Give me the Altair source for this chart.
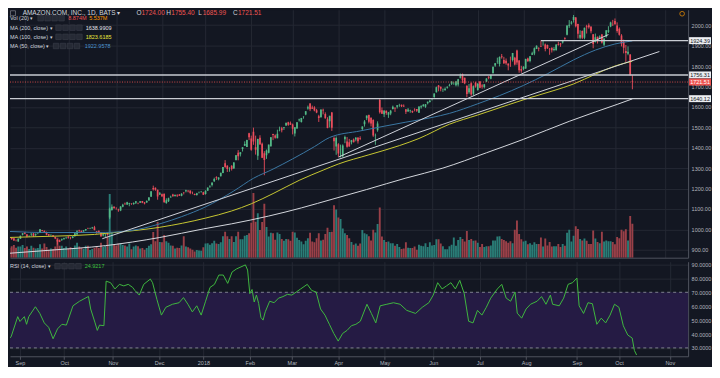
import altair as alt
import pandas as pd

# ---------------- data (trading-day index 0 = 2017-08-22) ----------------
month_idx = [8, 28, 50, 71, 91, 112, 131, 152, 173, 195, 216, 237, 260, 279, 302]
month_lbl = ["Sep", "Oct", "Nov", "Dec", "2018", "Feb", "Mar", "Apr", "May",
             "Jun", "Jul", "Aug", "Sep", "Oct", "Nov"]

opens = [
    958, 960, 958, 956, 947, 940, 954, 974,
    984, 975, 967, 975, 980, 973, 983, 983, 996, 993, 985, 976, 972, 971, 963, 949, 946, 948, 951, 960,
    964, 958, 957, 968, 975, 994, 993, 989, 995, 1004, 1005, 1005, 1010, 990, 993, 986, 970, 972, 981, 1058, 1095, 1110,
    1105, 1097, 1092, 1110, 1125, 1122, 1125, 1126, 1124, 1130, 1128, 1130, 1139, 1132, 1131, 1141, 1160, 1202, 1204, 1194, 1171,
    1172, 1174, 1129, 1138, 1156, 1171, 1163, 1167, 1171, 1164, 1180, 1187, 1189, 1190, 1176, 1173, 1168, 1180, 1185, 1182,
    1173, 1189, 1206, 1217, 1236, 1256, 1245, 1260, 1276, 1324, 1312, 1293, 1312, 1298, 1339, 1375, 1368, 1393, 1409, 1403, 1471,
    1445, 1478, 1402, 1361, 1449, 1419, 1373, 1363, 1375, 1407, 1467, 1460, 1446, 1482, 1495, 1496, 1509, 1524, 1520,
    1513, 1469, 1494, 1534, 1526, 1550, 1563, 1592, 1616, 1597, 1597, 1583, 1554, 1550, 1586, 1565, 1539, 1530, 1572, 1447, 1406,
    1417, 1391, 1358, 1441, 1430, 1426, 1427, 1440, 1440, 1449, 1446, 1491, 1515, 1544, 1560, 1547, 1535, 1458, 1485, 1634, 1583,
    1564, 1581, 1561, 1567, 1589, 1595, 1600, 1608, 1610, 1605, 1588, 1577, 1580, 1580, 1586, 1589, 1571, 1598, 1603, 1600, 1618, 1624,
    1638, 1648, 1672, 1705, 1699, 1682, 1681, 1694, 1702, 1713, 1715, 1706, 1709, 1743, 1761, 1743, 1703, 1672, 1716, 1664, 1718,
    1683, 1724, 1705, 1697, 1724, 1747, 1738, 1765, 1803, 1821, 1810, 1848, 1829, 1826, 1812, 1830, 1829, 1840, 1876, 1827, 1786,
    1785, 1788, 1837, 1825, 1855, 1861, 1883, 1888, 1898, 1919, 1905, 1903, 1885, 1890, 1878, 1877, 1907, 1910, 1915, 1937, 1953, 1997, 2008,
    2026, 2038, 2006, 1939, 1972, 1939, 1995, 2000, 1993, 1956, 1918, 1943, 1939, 1954, 1904, 1943, 1968, 1993, 2004,
    2021, 1999, 1982, 1949, 1918, 1874, 1860, 1857, 1724,
]
highs = [
    968, 961, 962, 957, 950, 956, 969, 981,
    985, 977, 969, 980, 982, 979, 985, 1001, 997, 994, 989, 977, 974, 972, 964, 952, 950, 955, 959, 964,
    967, 963, 967, 982, 996, 998, 994, 996, 1002, 1008, 1008, 1012, 1017, 991, 994, 987, 978, 978, 985, 1106, 1122, 1113,
    1108, 1101, 1113, 1125, 1131, 1135, 1130, 1128, 1132, 1138, 1131, 1138, 1139, 1134, 1142, 1158, 1186, 1214, 1205, 1194, 1183,
    1175, 1175, 1152, 1155, 1165, 1174, 1169, 1172, 1173, 1177, 1183, 1194, 1192, 1190, 1185, 1175, 1179, 1185, 1188, 1184,
    1191, 1206, 1216, 1229, 1253, 1260, 1255, 1277, 1305, 1339, 1314, 1304, 1314, 1329, 1364, 1388, 1378, 1402, 1431, 1439, 1473,
    1459, 1498, 1459, 1444, 1461, 1425, 1383, 1391, 1414, 1452, 1468, 1465, 1488, 1503, 1502, 1500, 1522, 1527, 1528,
    1518, 1501, 1525, 1542, 1546, 1554, 1579, 1606, 1618, 1606, 1603, 1590, 1561, 1587, 1591, 1573, 1549, 1556, 1575, 1455, 1455,
    1422, 1415, 1416, 1459, 1452, 1443, 1438, 1445, 1452, 1452, 1456, 1504, 1535, 1557, 1562, 1548, 1539, 1469, 1529, 1639, 1597,
    1582, 1582, 1575, 1585, 1606, 1597, 1608, 1615, 1611, 1612, 1588, 1594, 1586, 1582, 1593, 1589, 1602, 1608, 1614, 1614, 1626, 1635,
    1642, 1666, 1699, 1707, 1699, 1690, 1695, 1700, 1713, 1725, 1721, 1727, 1737, 1763, 1763, 1743, 1705, 1712, 1720, 1705, 1723,
    1714, 1726, 1711, 1711, 1740, 1750, 1757, 1797, 1815, 1841, 1847, 1859, 1845, 1837, 1812, 1846, 1864, 1845, 1880, 1829, 1801,
    1799, 1836, 1841, 1848, 1870, 1891, 1901, 1892, 1925, 1921, 1910, 1905, 1888, 1891, 1893, 1906, 1919, 1913, 1928, 1941, 1999, 2025, 2021,
    2050, 2040, 2007, 1975, 1974, 1988, 2002, 2009, 1993, 1956, 1959, 1944, 1950, 1957, 1938, 1975, 1995, 2017, 2026,
    2033, 2014, 1989, 1956, 1929, 1903, 1896, 1858, 1755,
]
lows = [
    955, 953, 948, 944, 941, 939, 953, 970,
    976, 960, 962, 967, 964, 966, 976, 983, 990, 982, 971, 967, 966, 962, 952, 925, 937, 943, 950, 953,
    954, 951, 956, 963, 973, 988, 983, 988, 992, 1001, 1001, 1003, 995, 979, 981, 963, 965, 962, 969, 1050, 1091, 1100,
    1096, 1086, 1089, 1108, 1121, 1119, 1113, 1120, 1120, 1124, 1123, 1130, 1128, 1122, 1130, 1141, 1160, 1190, 1189, 1145, 1168,
    1158, 1129, 1125, 1134, 1156, 1160, 1160, 1158, 1164, 1162, 1171, 1181, 1181, 1172, 1172, 1167, 1165, 1176, 1180, 1168,
    1170, 1189, 1205, 1210, 1232, 1242, 1240, 1259, 1275, 1301, 1281, 1282, 1288, 1297, 1337, 1338, 1357, 1381, 1408, 1403, 1437,
    1385, 1414, 1366, 1340, 1413, 1349, 1265, 1345, 1372, 1405, 1437, 1444, 1446, 1480, 1475, 1487, 1507, 1507, 1512,
    1465, 1455, 1493, 1528, 1523, 1542, 1559, 1586, 1579, 1590, 1578, 1569, 1526, 1546, 1563, 1542, 1495, 1499, 1482, 1386, 1365,
    1355, 1352, 1353, 1422, 1400, 1405, 1416, 1426, 1431, 1420, 1437, 1483, 1503, 1535, 1519, 1504, 1453, 1414, 1478, 1567, 1566,
    1550, 1561, 1546, 1559, 1587, 1575, 1592, 1600, 1599, 1600, 1565, 1576, 1571, 1570, 1578, 1575, 1570, 1591, 1601, 1595, 1612, 1621,
    1631, 1644, 1670, 1676, 1676, 1673, 1680, 1689, 1700, 1707, 1708, 1700, 1700, 1739, 1717, 1711, 1647, 1664, 1654, 1656, 1694,
    1679, 1691, 1689, 1690, 1722, 1735, 1735, 1764, 1796, 1811, 1798, 1836, 1810, 1806, 1779, 1796, 1822, 1803, 1806, 1767, 1767,
    1779, 1786, 1821, 1818, 1854, 1853, 1883, 1872, 1893, 1900, 1872, 1884, 1855, 1866, 1872, 1876, 1900, 1894, 1910, 1928, 1950, 1987, 2003,
    2013, 1989, 1935, 1931, 1932, 1931, 1959, 1983, 1960, 1887, 1915, 1910, 1932, 1910, 1898, 1939, 1962, 1990, 1996,
    2003, 1963, 1949, 1896, 1862, 1820, 1853, 1754, 1686,
]
closes = [
    967, 958, 952, 945, 946, 954, 968, 981,
    978, 965, 968, 980, 966, 978, 983, 1000, 992, 987, 974, 970, 973, 965, 955, 940, 939, 951, 956, 961,
    959, 957, 965, 981, 990, 991, 987, 995, 1001, 1003, 1006, 1009, 997, 987, 983, 966, 976, 973, 972, 1101, 1111, 1105,
    1104, 1094, 1112, 1121, 1123, 1133, 1129, 1125, 1129, 1137, 1127, 1137, 1130, 1126, 1139, 1156, 1186, 1196, 1194, 1161, 1177,
    1162, 1134, 1142, 1152, 1160, 1162, 1169, 1165, 1164, 1174, 1179, 1191, 1187, 1178, 1175, 1168, 1177, 1182, 1186, 1169,
    1189, 1204, 1210, 1229, 1247, 1253, 1254, 1277, 1305, 1305, 1295, 1293, 1295, 1327, 1363, 1358, 1378, 1402, 1418, 1438, 1451,
    1390, 1430, 1390, 1443, 1417, 1351, 1340, 1386, 1415, 1451, 1462, 1449, 1468, 1483, 1485, 1500, 1522, 1512, 1512,
    1493, 1500, 1524, 1538, 1545, 1552, 1579, 1598, 1588, 1591, 1582, 1572, 1545, 1587, 1582, 1544, 1496, 1556, 1497, 1431, 1447,
    1372, 1392, 1411, 1452, 1405, 1406, 1436, 1427, 1449, 1431, 1442, 1504, 1528, 1557, 1527, 1518, 1460, 1460, 1518, 1573, 1566,
    1582, 1570, 1572, 1581, 1600, 1592, 1608, 1609, 1603, 1602, 1576, 1587, 1582, 1574, 1585, 1581, 1602, 1603, 1610, 1613, 1625, 1630,
    1642, 1665, 1696, 1696, 1689, 1684, 1689, 1699, 1705, 1724, 1716, 1724, 1735, 1750, 1730, 1716, 1663, 1691, 1661, 1701, 1700,
    1714, 1694, 1700, 1711, 1739, 1743, 1755, 1797, 1813, 1822, 1844, 1843, 1813, 1814, 1802, 1829, 1864, 1808, 1817, 1779, 1777,
    1797, 1834, 1823, 1848, 1862, 1887, 1899, 1886, 1896, 1920, 1883, 1887, 1882, 1877, 1883, 1905, 1903, 1905, 1928, 1933, 1998, 2002, 2013,
    2040, 1995, 1958, 1952, 1939, 1987, 1990, 1990, 1970, 1908, 1941, 1926, 1944, 1915, 1934, 1975, 1975, 2013, 2003,
    2004, 1971, 1953, 1909, 1890, 1864, 1870, 1755, 1721.51,
]
volumes = [  # millions of shares
    2.7, 2.6, 3.0, 3.3, 2.6, 2.9, 2.9, 3.3,
    2.5, 2.9, 2.3, 3.1, 2.6, 2.4, 2.5, 3.5, 2.4, 3.7, 2.8, 2.1, 2.4, 2.3, 2.9, 5.2, 3.1, 3.1, 2.5, 2.9,
    2.4, 2.7, 2.5, 3.2, 3.9, 2.9, 2.5, 2.3, 3.1, 3.1, 2.0, 2.3, 2.5, 3.0, 2.5, 3.9, 2.8, 3.1, 5.6, 16.6, 6.6, 3.5,
    3.2, 3.7, 3.8, 3.3, 3.2, 2.9, 3.7, 2.2, 2.9, 3.2, 3.0, 2.4, 2.5, 2.1, 2.5, 3.1, 3.5, 6.7, 4.3, 9.3, 4.1,
    4.0, 5.9, 4.3, 3.9, 3.2, 3.1, 2.4, 2.6, 2.5, 3.2, 5.6, 2.9, 2.7, 2.4, 2.1, 1.6, 2.0, 1.9, 1.8, 2.7,
    3.7, 3.8, 3.4, 3.8, 4.4, 3.7, 3.6, 4.0, 5.6, 6.8, 5.6, 4.9, 5.6, 4.1, 5.6, 6.8, 4.8, 4.8, 5.7, 5.9, 6.4,
    9.1, 16.9, 9.4, 11.6, 7.2, 9.3, 14.1, 8.0, 5.5, 6.5, 6.4, 4.7, 6.6, 6.2, 4.9, 4.4, 4.9, 4.8, 4.4,
    6.8, 6.6, 5.2, 4.6, 4.2, 3.5, 4.4, 5.1, 6.5, 4.2, 4.0, 5.1, 6.4, 4.5, 4.7, 6.2, 7.8, 6.7, 6.8, 13.7, 12.6,
    10.5, 10.1, 7.6, 6.4, 5.9, 5.1, 4.1, 3.4, 3.7, 3.1, 3.7, 7.2, 6.4, 6.1, 5.6, 4.5, 7.3, 6.6, 8.8, 13.1, 5.5,
    4.6, 4.1, 4.2, 3.8, 3.8, 3.1, 3.6, 2.8, 2.3, 2.4, 4.0, 2.6, 2.5, 2.5, 2.9, 2.1, 3.4, 3.1, 3.0, 3.8, 2.8, 4.0,
    3.2, 3.3, 4.8, 4.8, 3.7, 3.0, 2.2, 2.2, 3.0, 3.4, 5.3, 3.1, 4.6, 5.4, 4.9, 4.2, 7.0, 4.6, 4.9, 4.4, 4.5,
    3.9, 2.8, 3.6, 2.8, 3.0, 3.0, 3.2, 4.5, 4.5, 5.5, 5.6, 4.9, 4.6, 4.3, 3.9, 4.3, 3.8, 7.3, 9.7, 6.2, 4.8,
    4.2, 4.4, 3.5, 3.8, 3.4, 4.0, 3.6, 3.6, 5.3, 2.9, 5.0, 3.2, 4.1, 2.9, 3.0, 3.0, 3.6, 2.8, 3.6, 3.1, 6.5, 7.3, 4.2,
    5.7, 8.2, 7.5, 4.9, 4.5, 5.0, 4.4, 3.6, 3.6, 7.1, 5.0, 4.1, 3.8, 6.8, 4.2, 4.5, 4.3, 4.3, 4.1,
    3.5, 5.4, 5.1, 7.3, 6.9, 7.4, 4.5, 10.9, 8.874,
]

ma50_idx = [0, 20, 45, 60, 71, 80, 91, 104, 113, 122, 131, 141, 148, 162, 173, 183, 195, 203, 216, 226, 237, 248, 260, 270, 279, 287]
ma50_val = [990, 984, 985, 1000, 1030, 1062, 1110, 1188, 1250, 1295, 1345, 1405, 1450, 1482, 1505, 1525, 1548, 1568, 1615, 1655, 1705, 1762, 1830, 1878, 1908, 1922.96]
ma100_idx = [0, 20, 40, 50, 70, 91, 103, 112, 122, 134, 145, 152, 166, 180, 189, 203, 216, 230, 240, 251, 260, 270, 279, 287]
ma100_val = [960, 966, 975, 985, 1010, 1055, 1090, 1125, 1175, 1240, 1290, 1320, 1365, 1410, 1445, 1515, 1560, 1610, 1645, 1680, 1712, 1760, 1800, 1823.62]
ma200_idx = [0, 20, 45, 70, 90, 103, 120, 135, 150, 165, 183, 200, 220, 237, 258, 270, 280, 287]
ma200_val = [882, 898, 920, 960, 1002, 1027, 1065, 1105, 1150, 1195, 1251, 1300, 1375, 1441, 1529, 1575, 1612, 1638.99]

trend_a_idx = [43.6, 299.4]
trend_a_val = [954, 1871]
trend_b_idx = [152.1, 276.0]
trend_b_val = [1354, 1954]

level_prices = [1756.31, 1640.12]
resist_price = 1924.39
resist_start = 245
last_price = 1721.51

rsi_idx = [0, 3, 4, 7, 8, 10, 11, 12, 15, 17, 19, 21, 23, 25, 27, 29, 32, 35, 39, 40, 42, 43, 44, 46, 47,
           49, 51, 53, 55, 57, 59, 60, 62, 64, 67, 68, 70, 72, 74, 77, 80, 82, 84, 86, 88, 90, 92, 94, 96,
           98, 100, 102, 104, 106, 110, 111, 112, 113, 114, 115, 116, 117, 118, 119, 121, 123, 125, 127, 129,
           131, 133, 135, 138, 140, 142, 144, 146, 148, 150, 152, 154, 156, 158, 160, 162, 165, 167, 169,
           171, 174, 177, 180, 183, 185, 187, 190, 193, 195, 197, 199, 201, 203, 205, 207, 209, 211, 213,
           215, 217, 219, 221, 224, 226, 228, 230, 232, 233, 235, 237, 239, 242, 244, 246, 248, 249, 252,
           254, 256, 258, 260, 261, 263, 265, 267, 269, 271, 273, 275, 277, 279, 281, 283, 285, 286, 287]
rsi_val = [42, 36.6, 38, 52.5, 49, 52.5, 47, 52.5, 59.6, 54.8, 48, 44.8, 36.6, 43.7, 47, 46.4, 60.3, 63.6, 67, 58, 48, 42.6, 46.4, 46, 78,
           76.9, 72.4, 75.7, 74.6, 75.7, 73.5, 71.3, 68, 75.7, 79.5, 76.9, 64.7, 53.6, 59.2, 61.4, 62.5, 66.2, 61.4, 55.9, 60.3, 53.6, 63.6, 73.5, 75.7,
           82.4, 82.4, 76.4, 84.6, 86.8, 89.7, 86, 69, 72, 63, 68, 62, 52, 50, 56, 63.6, 62.5, 65.8, 66.9, 68.5,
           68, 70.2, 72.4, 75.7, 71.3, 70.2, 58, 53.6, 47, 40.4, 34.9, 40.4, 42.6, 46, 47, 49.2, 61.4, 54.8, 48,
           60.3, 61.4, 62.5, 61.4, 57, 55.9, 54.8, 59.2, 62.5, 68, 76.9, 72.4, 74.6, 76.9, 72.4, 78.6, 69.1, 49.2, 48,
           57, 53.6, 59.2, 65.8, 72.4, 75.7, 65.8, 63.6, 70.2, 55, 51.4, 58, 61.4, 63.6, 66.9, 61.4, 68, 61.4, 60.3,
           65.8, 75.7, 76.9, 80.2, 60.3, 54.8, 62.5, 61.8, 47, 51.4, 48, 53.6, 61.4, 59.2, 45.9, 39.3, 37.1, 28.2, 24.92]

# ---------------- layout / style ----------------
W, H_MAIN, H_RSI = 681, 249, 95
X_DOM = [3.5, 310.3]
P_DOM = [861, 2075.6]
V_DOM = [0, 64.7]
R_DOM = [24, 92]
FONT = "Liberation Sans"
BG = "#131722"
GRID = "#242833"
AXLINE = "#50535e"
TXT = "#b2b5be"
HDR = "#d1d4dc"
UP, DOWN = "#53b987", "#eb4d5c"
VUP, VDOWN = "#2a7d77", "#9a4048"
RED = "#ef5350"

bars = pd.DataFrame({"i": list(range(len(closes))), "o": opens, "h": highs,
                     "l": lows, "c": closes, "v": volumes})

xs = alt.Scale(domain=X_DOM, nice=False, zero=False)
ps = alt.Scale(domain=P_DOM, nice=False, zero=False)
rs = alt.Scale(domain=R_DOM, nice=False, zero=False)

main_x_axis = alt.Axis(values=month_idx, labels=False, ticks=False, grid=True,
                       gridColor=GRID, domainColor=AXLINE, title=None)
lbl_expr = ("[" + ",".join("'%s'" % s for s in month_lbl) + "][indexof(["
            + ",".join(str(v) for v in month_idx) + "], datum.value)]")
rsi_x_axis = alt.Axis(values=month_idx, labelExpr=lbl_expr, labelFontSize=5.5,
                      labelColor=TXT, labelFont=FONT, tickSize=3, tickColor=AXLINE,
                      labelPadding=1, grid=True, gridColor=GRID, domainColor=AXLINE,
                      title=None, labelFlush=False)
price_axis = alt.Axis(orient="right", values=list(range(900, 2100, 100)), format=".2f",
                      labelFontSize=5.5, labelColor=TXT, labelFont=FONT, ticks=False,
                      labelPadding=3, grid=True, gridColor=GRID, domainColor=AXLINE,
                      title=None)
rsi_axis = alt.Axis(orient="right", values=[30, 40, 50, 60, 70, 80, 90], format=".4f",
                    labelFontSize=5.5, labelColor=TXT, labelFont=FONT, ticks=False,
                    labelPadding=3, grid=True, gridColor=GRID, domainColor=AXLINE,
                    title=None)


def XM(f="i"):
    return alt.X(f + ":Q", scale=xs, axis=main_x_axis)


def YP(f):
    return alt.Y(f + ":Q", scale=ps, axis=price_axis)


def XR(f="i"):
    return alt.X(f + ":Q", scale=xs, axis=rsi_x_axis)


def YR(f):
    return alt.Y(f + ":Q", scale=rs, axis=rsi_axis)


def txt(s, x, y, color=HDR, size=5.5, align="left"):
    return alt.Chart(pd.DataFrame({"t": [s]})).mark_text(
        align=align, baseline="middle", font=FONT, fontSize=size, color=color
    ).encode(x=alt.value(x), y=alt.value(y), text="t:N")


def box(x1, x2, y1, y2, fill="#262a35", stroke="#3b3f4a"):
    return alt.Chart(pd.DataFrame({"k": [0]})).mark_rect(
        fill=fill, stroke=stroke, strokeWidth=0.6
    ).encode(x=alt.value(x1), x2=alt.value(x2), y=alt.value(y1), y2=alt.value(y2))


def icons(x0, y, step=7.0, size=5.5):
    return [box(x0 + k * step, x0 + k * step + size, y - size / 2, y + size / 2) for k in range(4)]


up_cond_c = alt.condition("datum.c >= datum.o", alt.value(UP), alt.value(DOWN))
up_cond_v = alt.condition("datum.c >= datum.o", alt.value(VUP), alt.value(VDOWN))

# ---------------- main panel ----------------
vol = alt.Chart(bars).mark_bar(size=1.9, clip=True).encode(
    x=XM(), y=alt.Y("v:Q", scale=alt.Scale(domain=V_DOM, nice=False), axis=None),
    color=up_cond_v)

wicks = alt.Chart(bars).mark_rule(strokeWidth=0.9, clip=True).encode(
    x=XM(), y=YP("l"), y2="h:Q", color=up_cond_c)
bodies = alt.Chart(bars).mark_bar(size=1.7, clip=True).encode(
    x=XM(), y=YP("o"), y2="c:Q", color=up_cond_c)


def line_layer(idx, vals, color, width=1.0):
    df = pd.DataFrame({"i": idx, "p": vals})
    return alt.Chart(df).mark_line(color=color, strokeWidth=width, clip=True,
                                   interpolate="monotone").encode(x=XM(), y=YP("p"))


ma200 = line_layer(ma200_idx, ma200_val, "#d5d8de")
ma100 = line_layer(ma100_idx, ma100_val, "#c8c832")
ma50 = line_layer(ma50_idx, ma50_val, "#3b78a3")
tr_a = line_layer(trend_a_idx, trend_a_val, "#d1d4dc")
tr_b = line_layer(trend_b_idx, trend_b_val, "#d1d4dc")

levels = alt.Chart(pd.DataFrame({"p": level_prices})).mark_rule(
    color="#c9ccd3", strokeWidth=1.4).encode(y=YP("p"))
resist = alt.Chart(pd.DataFrame({"i": [resist_start], "p": [resist_price]})).mark_rule(
    color="#c9ccd3", strokeWidth=1.4).encode(x=XM(), x2=alt.value(W), y=YP("p"))
lastline = alt.Chart(pd.DataFrame({"p": [last_price]})).mark_rule(
    color=RED, strokeWidth=1, strokeDash=[1, 1.5], opacity=0.85).encode(y=YP("p"))

white_tags = alt.Chart(pd.DataFrame({"p": [resist_price] + level_prices})).transform_calculate(
    pt="datum.p + 17", pb="datum.p - 17")
tag_rect = white_tags.mark_rect(fill="#eceef2").encode(
    x=alt.value(W + 1), x2=alt.value(W + 23), y=YP("pt"), y2="pb:Q")
tag_text = white_tags.mark_text(font=FONT, fontSize=5.5, color="#131722", align="center",
                                baseline="middle").encode(
    x=alt.value(W + 12), y=YP("p"), text=alt.Text("p:Q", format=".2f"))
red_tag = alt.Chart(pd.DataFrame({"p": [last_price]})).transform_calculate(
    pt="datum.p + 17", pb="datum.p - 17")
red_rect = red_tag.mark_rect(fill=RED).encode(
    x=alt.value(W + 1), x2=alt.value(W + 23), y=YP("pt"), y2="pb:Q")
red_text = red_tag.mark_text(font=FONT, fontSize=5.5, color="#ffffff", align="center",
                             baseline="middle").encode(
    x=alt.value(W + 12), y=YP("p"), text=alt.Text("p:Q", format=".2f"))

price_layer = alt.layer(wicks, bodies, ma200, ma100, ma50, tr_a, tr_b, levels, resist,
                        lastline, tag_rect, tag_text, red_rect, red_text)

header = [
    box(0.5, 5.5, 1.0, 6.0, fill=BG, stroke="#9598a1"),
    txt("AMAZON.COM, INC., 1D, BATS \u25be", 12.7, 3.6, size=6.5),
    txt("O", 127, 3.6, size=6.5), txt("1724.00", 132, 3.6, color=RED, size=6.5),
    txt("H", 157, 3.6, size=6.5), txt("1755.40", 162, 3.6, color=RED, size=6.5),
    txt("L", 189, 3.6, size=6.5), txt("1685.99", 193.5, 3.6, color=RED, size=6.5),
    txt("C", 224, 3.6, size=6.5), txt("1721.51", 229, 3.6, color=RED, size=6.5),
    txt("Vol (20) \u25be", 0, 8.5),
    txt("8.874M", 58.5, 8.5, color=RED),
    txt("5.537M", 79.5, 8.5, color="#ff9800"),
    txt("MA (200, close) \u25be", 0, 18),
    txt("1638.9909", 76, 18, color="#e6e8ee"),
    txt("MA (100, close) \u25be", 0, 27.2),
    txt("1823.6185", 76, 27.2, color="#e8e83c"),
    txt("MA (50, close) \u25be", 0, 36.4),
    txt("1922.9578", 75, 36.4, color="#4b95d1"),
]
header += icons(28, 8.5) + icons(46, 18) + icons(46, 27.2) + icons(43.5, 36.4)

earn = alt.Chart(pd.DataFrame({"k": [0]})).mark_point(
    shape="circle", filled=False, size=22, color="#ff9800", strokeWidth=1).encode(
    x=alt.value(W - 6), y=alt.value(4))

main = alt.layer(vol, price_layer, earn, *header).resolve_scale(y="independent").properties(
    width=W, height=H_MAIN)

# ---------------- RSI panel ----------------
rsi_df = pd.DataFrame({"i": rsi_idx, "r": rsi_val})
band = alt.Chart(pd.DataFrame({"lo": [30], "hi": [70]})).mark_rect(color="#251b44").encode(
    x=alt.value(0), x2=alt.value(W), y=YR("lo"), y2="hi:Q")
dash = alt.Chart(pd.DataFrame({"lvl": [30, 70]})).mark_rule(
    color="#8a8d98", strokeDash=[3, 3], strokeWidth=0.9).encode(y=YR("lvl"))
rline = alt.Chart(rsi_df).mark_line(color="#3fb73f", strokeWidth=1, clip=True).encode(
    x=XR(), y=YR("r"))
rsi_hdr = [txt("RSI (14, close) \u25be", 0, 4.5),
           txt("24.9217", 75, 4.5, color="#3dc23d")] + icons(45, 4.5)

rsi = alt.layer(band, dash, rline, *rsi_hdr).properties(width=W, height=H_RSI)

chart = alt.vconcat(main, rsi, spacing=2).properties(padding=0).configure(
    background=BG, font=FONT
).configure_view(stroke="transparent", fill=BG)

chart.save("out.html", embed_options={"renderer": "svg", "actions": False})
